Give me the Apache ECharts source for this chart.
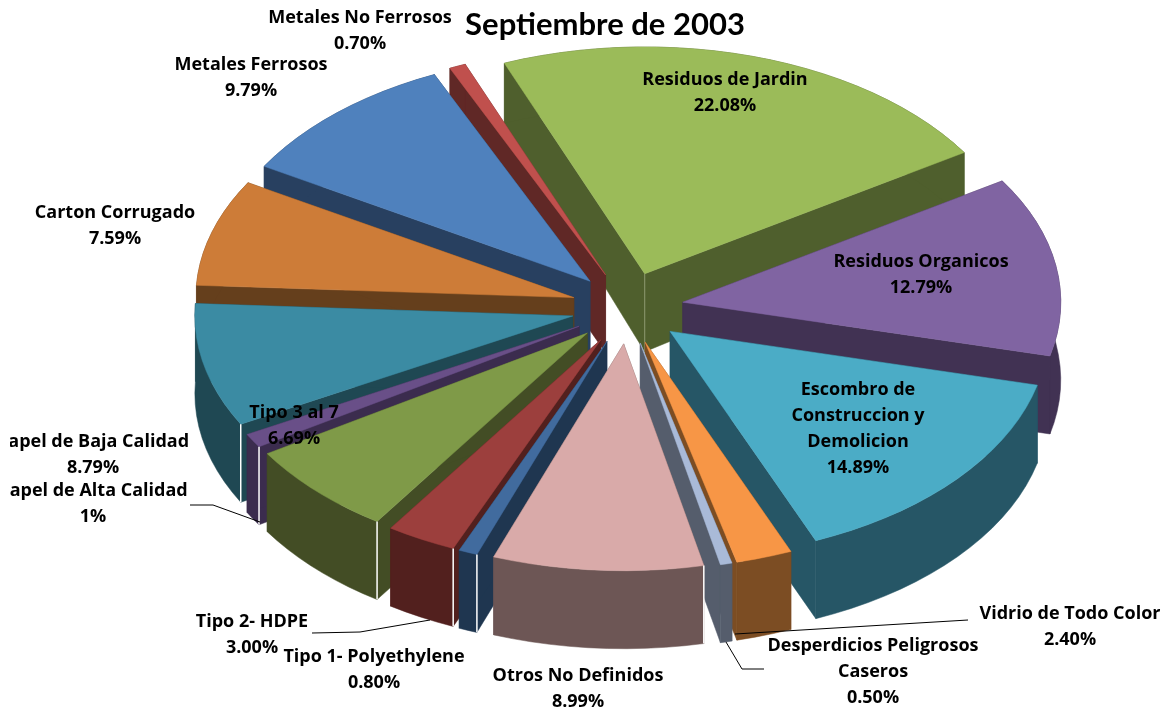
<!DOCTYPE html>
<html><head><meta charset="utf-8">
<style>html,body{margin:0;padding:0;background:#fff}#c{width:1169px;height:711px}</style>
<script src="https://cdn.jsdelivr.net/npm/echarts@6/dist/echarts.min.js"></script>
</head><body><div id="c"></div>
<script>
const categories=["Residuos de Jardin","Residuos Organicos","Escombro de\nConstruccion y\nDemolicion","Vidrio de Todo Color","Desperdicios Peligrosos\nCaseros","Otros No Definidos","Tipo 1- Polyethylene","Tipo 2- HDPE","Tipo 3 al 7","Papel de Alta Calidad","Papel de Baja Calidad","Carton Corrugado","Metales Ferrosos","Metales No Ferrosos"];
const values=[22.08,12.79,14.89,2.40,0.50,8.99,0.80,3.00,6.69,1,8.79,7.59,9.79,0.70];
const valueLabels=["22.08%","12.79%","14.89%","2.40%","0.50%","8.99%","0.80%","3.00%","6.69%","1%","8.79%","7.59%","9.79%","0.70%"];
const topColors=["#9BBB59","#8064A2","#4BACC6","#F79646","#A9BAD8","#D9AAA9","#416B9E","#9C3F3D","#7F9A48","#694F88","#3B8BA3","#CD7C38","#4F81BD","#C0504D"];
const wallColors=["#4F5F2D","#413253","#265666","#7C4D23","#555D6C","#6D5655","#1F3650","#52201E","#434D25","#3B2C4E","#1F4853","#653F1C","#284060","#602826"];
const labelCenters=[[725,93],[921,275],[858,429],[1070,627],[873,672],[578,689],[374,670],[252,635],[294,426],[93,504],[93,455],[115,226],[251,78],[360,31]];
const brightEdges=[5,6,7,8,9,10];

const cx=627.5,cy=308,Ex=56,Ey=36,R=378,K=0.6,START=-21.8;
const total=values.reduce((a,b)=>a+b,0);
const rad=d=>d*Math.PI/180;
let acc=START;
const slices=values.map((v,i)=>{const a0=acc;acc+=v/total*360;return {i,a0,a1:acc,mid:(a0+acc)/2};});
const order=slices.slice().sort((p,q)=>Math.cos(rad(q.mid))-Math.cos(rad(p.mid)));
function height(y){const t=Math.min(1,Math.max(0,(y-62)/210));return 60+18*t;}
function pt(s,r,a){return [cx+Ex*Math.sin(rad(s.mid))+R*r*Math.sin(rad(a)),cy-Ey*Math.cos(rad(s.mid))-R*K*r*Math.cos(rad(a))];}
const drop=p=>[p[0],p[1]+height(p[1])];
function poly(points,fill,stroke){return {type:'polygon',shape:{points},style:{fill,stroke:stroke||fill,lineWidth:0.5}};}
function renderSlice(params,api){
  const s=slices[api.value(0)];
  const apex=pt(s,0,s.mid);
  const arc=[];const n=Math.max(2,Math.ceil((s.a1-s.a0)/3));
  for(let k=0;k<=n;k++)arc.push(pt(s,1,s.a0+(s.a1-s.a0)*k/n));
  const wall=wallColors[s.i];
  const kids=[];
  const sideA=[apex,arc[0],drop(arc[0]),drop(apex)];
  const sideB=[apex,arc[n],drop(arc[n]),drop(apex)];
  const outer=arc.concat(arc.map(drop).reverse());
  kids.push(poly(sideA,wall),poly(sideB,wall),poly(outer,wall));
  if(s.i===0)kids.push({type:'line',shape:{x1:apex[0],y1:apex[1],x2:apex[0],y2:drop(apex)[1]},style:{stroke:'#8C9A70',lineWidth:1}});
  kids.push(poly([apex].concat(arc),topColors[s.i]));
  if(brightEdges.includes(s.i)){const c=arc[0],d=drop(c);kids.push({type:'line',shape:{x1:c[0],y1:c[1],x2:d[0],y2:d[1]},style:{stroke:'#fff',lineWidth:1.5}});}
  return {type:'group',children:kids};
}
const font='"Open Sans", Lato, sans-serif';
const labelEls=categories.map((c,i)=>({type:'text',z:50,x:labelCenters[i][0],y:labelCenters[i][1],style:{text:c+"\n"+valueLabels[i],fill:'#000',font:'bold 18px '+font,align:'center',verticalAlign:'middle',lineHeight:26}}));
const leaders=[[[190,505],[213,505],[260,522]],[[312,633],[360,632],[430,620]],[[764,669],[742,669],[726,642]],[[968,620],[735,634]]];
const leaderEls=leaders.map(p=>({type:'polyline',z:40,shape:{points:p},style:{stroke:'#000',fill:null,lineWidth:1}}));
const chart=echarts.init(document.getElementById('c'),null,{renderer:'canvas'});
chart.setOption({
  backgroundColor:'#fff',animation:false,
  title:{text:'Septiembre de 2003',left:600,top:4,textAlign:'center',textStyle:{fontFamily:'Lato, sans-serif',fontWeight:'bold',fontSize:31,color:'#000'}},
  xAxis:{show:false},yAxis:{show:false},
  series:[{type:'custom',coordinateSystem:'none',renderItem:renderSlice,silent:true,clip:false,data:order.map(s=>[s.i,values[s.i]])}],
  graphic:leaderEls.concat(labelEls).concat([{type:'rect',z:60,shape:{x:0,y:430,width:10,height:75},style:{fill:'#fff'}}])
});
</script></body></html>
